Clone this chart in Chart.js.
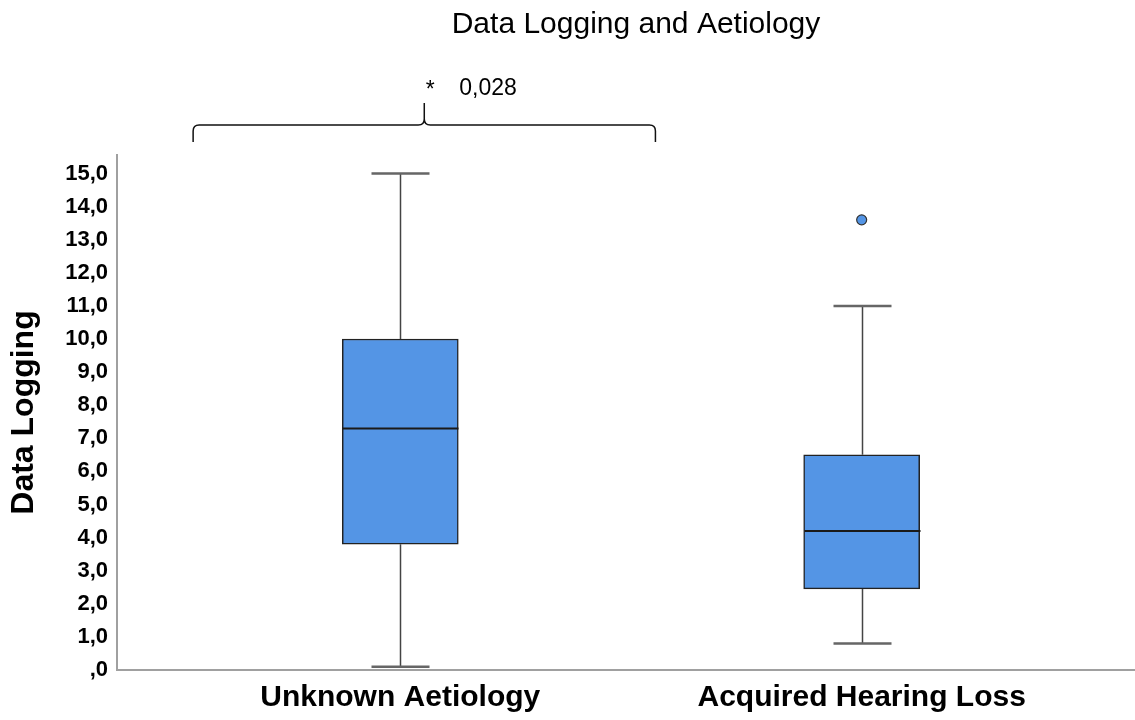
<!DOCTYPE html>
<html>
<head>
<meta charset="utf-8">
<script src="https://cdn.jsdelivr.net/npm/chart.js@4"></script>
<style>
  html, body { margin: 0; padding: 0; background: #fff; }
  #wrap { width: 1135px; height: 720px; }
</style>
</head>
<body>
<div id="wrap"><canvas id="chart"></canvas></div>
<script>
// Data
const categories = ['Unknown Aetiology', 'Acquired Hearing Loss'];
const q1 = [3.8, 2.45];
const q3 = [10.0, 6.5];
const medians = [7.3, 4.2];
const whiskerLow = [0.1, 0.8];
const whiskerHigh = [15.0, 11.0];
const outlierX = [1];
const outlierY = [13.6];
const yTicks = [0, 1, 2, 3, 4, 5, 6, 7, 8, 9, 10, 11, 12, 13, 14, 15];

// Vyznačení signifikance (x v jednotkách osy)
const bracket = { from: -0.449, to: 0.553, peak: 0.052, star: '*', p: '0,028' };

const FONT = "'Liberation Sans', Arial, sans-serif";
const BOX_COLOR = 'rgb(84,149,229)';

const fmt = v => v === 0 ? ',0' : v.toFixed(1).replace('.', ',');

// Vousy, mediány, závorka a nadpis
const boxExtras = {
  id: 'boxExtras',
  afterDatasetsDraw(chart) {
    const { ctx, scales: { x, y }, chartArea } = chart;
    const half = 29;
    ctx.save();
    categories.forEach((c, i) => {
      const cx = Math.round(x.getPixelForValue(i)) + 0.5;
      // vousy
      ctx.strokeStyle = '#444';
      ctx.lineWidth = 1.5;
      ctx.beginPath();
      ctx.moveTo(cx, y.getPixelForValue(whiskerHigh[i]));
      ctx.lineTo(cx, y.getPixelForValue(q3[i]));
      ctx.moveTo(cx, y.getPixelForValue(q1[i]));
      ctx.lineTo(cx, y.getPixelForValue(whiskerLow[i]));
      ctx.stroke();
      // konce vousů
      ctx.strokeStyle = '#666';
      ctx.lineWidth = 2.5;
      ctx.beginPath();
      [whiskerHigh[i], whiskerLow[i]].forEach(v => {
        const py = y.getPixelForValue(v);
        ctx.moveTo(cx - half, py);
        ctx.lineTo(cx + half, py);
      });
      ctx.stroke();
      // medián
      ctx.strokeStyle = '#1a1a1a';
      ctx.lineWidth = 2;
      ctx.beginPath();
      const my = y.getPixelForValue(medians[i]);
      ctx.moveTo(cx - 58, my);
      ctx.lineTo(cx + 58, my);
      ctx.stroke();
    });

    // závorka
    const L = x.getPixelForValue(bracket.from);
    const R = x.getPixelForValue(bracket.to);
    const P = x.getPixelForValue(bracket.peak);
    const top = chartArea.top;
    const yLine = top - 30, yEnd = top - 13, yPeak = top - 52, r = 6;
    ctx.strokeStyle = '#111';
    ctx.lineWidth = 1.5;
    ctx.beginPath();
    ctx.moveTo(L, yEnd);
    ctx.lineTo(L, yLine + r);
    ctx.quadraticCurveTo(L, yLine, L + r, yLine);
    ctx.lineTo(P - r, yLine);
    ctx.quadraticCurveTo(P, yLine, P, yLine - r);
    ctx.lineTo(P, yPeak);
    ctx.moveTo(P, yLine - r);
    ctx.quadraticCurveTo(P, yLine, P + r, yLine);
    ctx.lineTo(R - r, yLine);
    ctx.quadraticCurveTo(R, yLine, R, yLine + r);
    ctx.lineTo(R, yEnd);
    ctx.stroke();

    ctx.fillStyle = '#000';
    ctx.textBaseline = 'middle';
    ctx.font = '23px ' + FONT;
    ctx.textAlign = 'center';
    ctx.fillText(bracket.star, P + 6, top - 64);
    ctx.textAlign = 'left';
    ctx.fillText(bracket.p, P + 35, top - 66);

    // nadpis
    ctx.font = '30px ' + FONT;
    ctx.textAlign = 'center';
    ctx.fillText('Data Logging and Aetiology', 636, 25);

    // dotažení osy x k pravému okraji
    ctx.strokeStyle = '#a0a0a0';
    ctx.lineWidth = 2;
    ctx.beginPath();
    ctx.moveTo(chartArea.right - 1, chartArea.bottom);
    ctx.lineTo(chart.width, chartArea.bottom);
    ctx.stroke();
    ctx.restore();
  }
};

new Chart(document.getElementById('chart'), {
  type: 'bar',
  data: {
    datasets: [
      {
        type: 'scatter',
        data: outlierX.map((v, i) => ({ x: v, y: outlierY[i] })),
        pointRadius: 5,
        backgroundColor: BOX_COLOR,
        borderColor: '#333',
        borderWidth: 1.2,
        order: 0,
      },
      {
        type: 'bar',
        data: categories.map((c, i) => ({ x: i, y: [q1[i], q3[i]] })),
        backgroundColor: BOX_COLOR,
        borderColor: '#222',
        borderWidth: 1.5,
        borderSkipped: false,
        barThickness: 116,
        order: 1,
      },
    ],
  },
  options: {
    responsive: true,
    maintainAspectRatio: false,
    animation: false,
    layout: { padding: { top: 155, left: 0, right: 0, bottom: 0 } },
    plugins: { legend: { display: false }, tooltip: { enabled: false } },
    scales: {
      x: {
        type: 'linear',
        offset: false,
        min: -0.614,
        max: 1.579,
        grid: { display: false, drawTicks: false, offset: false },
        border: { display: true, color: '#a0a0a0', width: 2 },
        afterBuildTicks: s => { s.ticks = categories.map((c, i) => ({ value: i })); },
        afterFit: s => { s.height = 50; },
        ticks: {
          callback: v => categories[v] ?? '',
          color: '#000',
          padding: 10,
          maxRotation: 0,
          autoSkip: false,
          font: { family: FONT, size: 30, weight: 'bold' },
        },
      },
      y: {
        min: 0,
        max: 15.56,
        grid: { display: false, drawTicks: false },
        border: { display: true, color: '#a0a0a0', width: 2 },
        afterBuildTicks: s => { s.ticks = yTicks.map(v => ({ value: v })); },
        afterFit: s => { s.width = 117; },
        ticks: {
          callback: v => fmt(v),
          color: '#000',
          padding: 9,
          font: { family: FONT, size: 22, weight: 'bold' },
        },
        title: {
          display: true,
          text: 'Data Logging',
          color: '#000',
          padding: { top: 5, bottom: 0 },
          font: { family: FONT, size: 32, weight: 'bold' },
        },
      },
    },
  },
  plugins: [boxExtras],
});
</script>
</body>
</html>
